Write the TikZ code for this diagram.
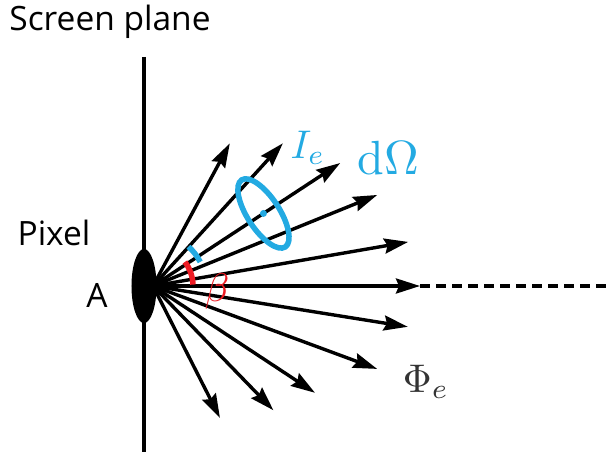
\documentclass[tikz,border=0pt]{standalone}
\usepackage{fontspec}
\setsansfont{Open Sans}
\usetikzlibrary{arrows.meta,shapes.geometric,positioning,calc}
\definecolor{omegaC}{RGB}{35,170,226}
\definecolor{betaC}{RGB}{237,28,36}

\begin{document}
\begin{tikzpicture}[x=1pt, y=1pt,
  plane/.style={line width=3.2pt},
  pix/.style={ellipse, fill=black, inner sep=0pt, minimum width=25pt, minimum height=74pt},
  ray/.style={-{Stealth[length=24pt, width=15pt, inset=3pt]}, line width=3.4pt},
  axis/.style={line width=3.4pt, dash pattern=on 10pt off 6pt},
  cone/.style={draw=omegaC, line width=5.5pt},
  ang/.style={line width=5.5pt},
  txt/.style={font=\sffamily\fontsize{33.5}{40}\selectfont, inner sep=0pt},
  mlab/.style={inner sep=0pt, font=\normalsize},
]
\useasboundingbox (-153,-169) rectangle (454,286);

% ---------------- screen plane ----------------
\coordinate (ptop) at (-9,229);
\coordinate (pbot) at (-9,-166);
\draw[plane] (ptop) -- (pbot);

% ---------------- emitted rays ----------------
\coordinate (o) at (0,0);
\foreach \a/\l [count=\i] in {61.7/162, 47.7/193, 33.3/224, 22.1/242, 9.8/259,
                              0/267, -9.1/258, -20.3/239, -33.4/194, -45.9/173, -63.1/148}
  \draw[ray] (o) -- (\a:\l) coordinate (t\i);
\coordinate (far) at (454,0);
\draw[axis] (t6) -- (far);

% ---------------- pixel ----------------
\node[pix] (A) at (-9,0) {};

% ---------------- solid angle and angle ----------------
\coordinate (c) at ($(o)!0.59!(t3)$);
\draw[cone, rotate around={-57:(c)}] (c) ellipse (40 and 16);
\fill[omegaC] (c) circle (3.5);
\draw[ang, omegaC] (27:53) arc (27:48:53);
\draw[ang, betaC] (2:40) arc (2:37:40);

% ---------------- labels ----------------
\node[txt] (scr) at (-43,264) {Screen plane};
\node[txt] (pxl) at (-99,53) {Pixel};
\node[txt] (lA)  at (-56,-9) {A};
\node[mlab, text=omegaC, scale=4] (Ie) at (155,138) {$I_e$};
\node[mlab, text=omegaC, scale=4.8] (dO) at (235,128) {$\mathrm{d}\Omega$};
\node[mlab, text=betaC, scale=4] (be) at (64,-5) {$\beta$};
\node[mlab, text=black!80, scale=4] (Pe) at (273,-96) {$\Phi_e$};

\end{tikzpicture}
\end{document}
